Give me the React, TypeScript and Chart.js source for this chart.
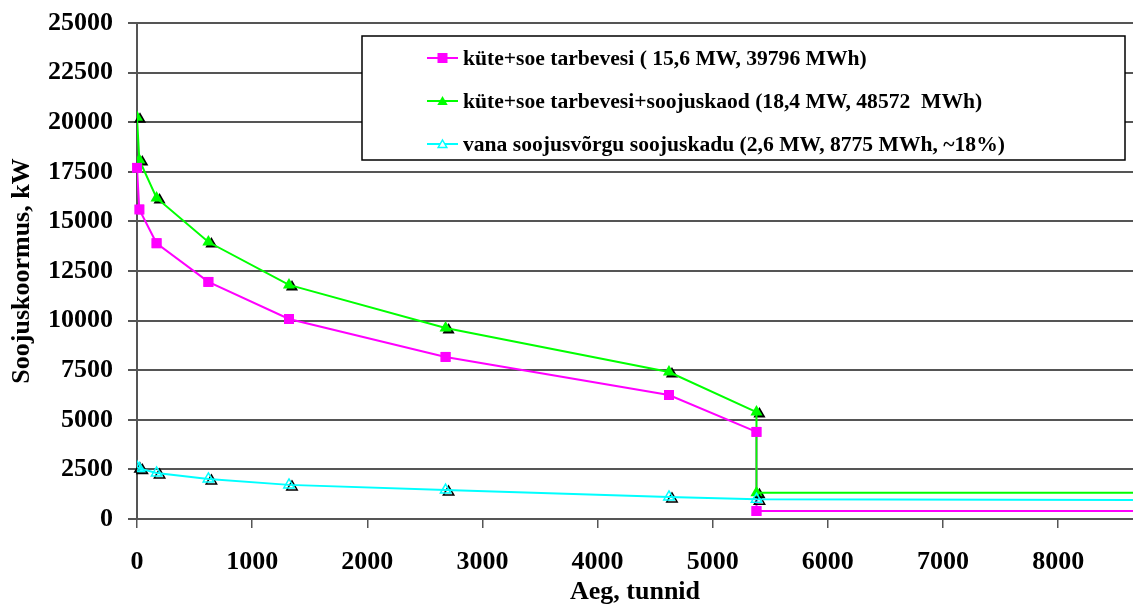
import React, { useEffect, useRef } from 'react';
import { Chart, registerables } from 'chart.js';

Chart.register(...registerables);

// ---- data ----
const hours = [0, 20, 170, 620, 1320, 2680, 4620, 5380, 5380, 8760];
const heatDhw = [17700, 15600, 13900, 11950, 10080, 8170, 6250, 4390, 400, 400];
const heatDhwLoss = [20250, 18100, 16180, 13960, 11800, 9630, 7410, 5390, 1320, 1320];
const lossHours = [0, 20, 170, 620, 1320, 2680, 4620, 5380, 8760];
const networkLoss = [2620, 2550, 2320, 2020, 1720, 1460, 1110, 1000, 960];

const seriesLabels = [
  'küte+soe tarbevesi ( 15,6 MW, 39796 MWh)',
  'küte+soe tarbevesi+soojuskaod (18,4 MW, 48572  MWh)',
  'vana soojusvõrgu soojuskadu (2,6 MW, 8775 MWh, ~18%)',
];
const xTickValues = [0, 1000, 2000, 3000, 4000, 5000, 6000, 7000, 8000];
const yTickValues = [0, 2500, 5000, 7500, 10000, 12500, 15000, 17500, 20000, 22500, 25000];
const xTitle = 'Aeg, tunnid';
const yTitle = 'Soojuskoormus, kW';

const FONT = "'Liberation Serif', 'Times New Roman', serif";
const PINK = '#ff00ff';
const GREEN = '#00ff00';
const CYAN = '#00ffff';

const toPoints = (xs: number[], ys: number[]) => xs.map((x, i) => ({ x, y: ys[i] }));
const radii = (n: number, r: number) => Array.from({ length: n }, (_, i) => (i === n - 1 ? 0 : r));

function trianglePath(ctx: CanvasRenderingContext2D, x: number, y: number, r: number) {
  ctx.beginPath();
  ctx.moveTo(x, y - r);
  ctx.lineTo(x + 0.866 * r, y + 0.5 * r);
  ctx.lineTo(x - 0.866 * r, y + 0.5 * r);
  ctx.closePath();
}

const shadowPlugin = {
  id: 'markerShadow',
  beforeDatasetDraw(chart: any, args: any) {
    const ds = chart.data.datasets[args.index];
    if (ds.pointStyle !== 'triangle') return;
    const ctx = chart.ctx as CanvasRenderingContext2D;
    const rs = ds.pointRadius as number[];
    ctx.save();
    args.meta.data.forEach((pt: any, i: number) => {
      const r = rs[i];
      if (!r) return;
      trianglePath(ctx, pt.x + 3, pt.y + 2, r);
      if (ds.shadowFill) {
        ctx.fillStyle = '#000';
        ctx.fill();
      } else {
        ctx.strokeStyle = '#000';
        ctx.lineWidth = 1.5;
        ctx.stroke();
      }
    });
    ctx.restore();
  },
};

// square markers sit above the other series' lines, as in the original
const squaresOnTopPlugin = {
  id: 'squaresOnTop',
  afterDatasetsDraw(chart: any) {
    const ctx = chart.ctx;
    const area = chart.chartArea;
    chart.data.datasets.forEach((ds: any, i: number) => {
      if (ds.pointStyle !== 'rect') return;
      const meta = chart.getDatasetMeta(i);
      meta.data.forEach((pt: any) => pt.draw(ctx, area));
    });
  },
};

const legendPlugin = {
  id: 'boxLegend',
  afterDatasetsDraw(chart: any) {
    const ctx = chart.ctx as CanvasRenderingContext2D;
    const a = chart.chartArea;
    const bx = a.left + 225;
    const by = a.top + 13;
    const bw = 763;
    const bh = 124;
    ctx.save();
    ctx.fillStyle = '#fff';
    ctx.fillRect(bx, by, bw, bh);
    ctx.strokeStyle = '#000';
    ctx.lineWidth = 1.5;
    ctx.strokeRect(bx, by, bw, bh);
    const rowY = [22, 65, 108];
    chart.data.datasets.forEach((ds: any, i: number) => {
      const y = by + rowY[i];
      const x0 = bx + 65;
      const x1 = bx + 96;
      const cx = (x0 + x1) / 2;
      ctx.strokeStyle = ds.borderColor;
      ctx.lineWidth = 2;
      ctx.beginPath();
      ctx.moveTo(x0, y);
      ctx.lineTo(x1, y);
      ctx.stroke();
      if (ds.pointStyle === 'rect') {
        ctx.fillStyle = ds.borderColor;
        ctx.fillRect(cx - 5, y - 5, 10, 10);
      } else if (ds.shadowFill) {
        trianglePath(ctx, cx, y + 1, 6);
        ctx.fillStyle = ds.borderColor;
        ctx.fill();
      } else {
        trianglePath(ctx, cx, y + 1, 5);
        ctx.fillStyle = '#fff';
        ctx.fill();
        ctx.lineWidth = 1.5;
        ctx.stroke();
      }
      ctx.fillStyle = '#000';
      ctx.font = `bold 21.6px ${FONT}`;
      ctx.textBaseline = 'middle';
      ctx.textAlign = 'left';
      ctx.fillText(seriesLabels[i], x1 + 5, y + 1);
    });
    ctx.restore();
  },
};

const plain = (v: any) => String(v);

export default function App() {
  const ref = useRef<HTMLCanvasElement | null>(null);

  useEffect(() => {
    if (!ref.current) return;
    const pinkR = radii(hours.length, 7);
    const greenR = radii(hours.length, 7);
    const cyanR = radii(lossHours.length, 6);
    const chart = new Chart(ref.current, {
      type: 'line',
      data: {
        datasets: [
          {
            label: seriesLabels[0],
            data: toPoints(hours, heatDhw),
            borderColor: PINK,
            backgroundColor: PINK,
            borderWidth: 2,
            pointStyle: 'rect',
            pointRadius: pinkR,
            pointBackgroundColor: PINK,
            pointBorderColor: PINK,
            pointBorderWidth: 0,
            order: 3,
          },
          {
            label: seriesLabels[1],
            data: toPoints(hours, heatDhwLoss),
            borderColor: GREEN,
            backgroundColor: GREEN,
            borderWidth: 2,
            pointStyle: 'triangle',
            pointRadius: greenR,
            pointBackgroundColor: GREEN,
            pointBorderColor: GREEN,
            pointBorderWidth: 0,
            shadowFill: true,
            order: 2,
          } as any,
          {
            label: seriesLabels[2],
            data: toPoints(lossHours, networkLoss),
            borderColor: CYAN,
            backgroundColor: CYAN,
            borderWidth: 2,
            pointStyle: 'triangle',
            pointRadius: cyanR,
            pointBackgroundColor: 'rgba(0,0,0,0)',
            pointBorderColor: CYAN,
            pointBorderWidth: 1.5,
            shadowFill: false,
            order: 1,
          } as any,
        ],
      },
      options: {
        responsive: false,
        animation: false,
        maintainAspectRatio: false,
        layout: { autoPadding: false, padding: { top: 23, right: 0, left: 0, bottom: 0 } },
        plugins: {
          legend: { display: false },
          title: { display: false },
          tooltip: { enabled: false },
        },
        elements: { line: { tension: 0 } },
        scales: {
          x: {
            type: 'linear',
            min: 0,
            max: 8650,
            afterBuildTicks: (s: any) => {
              s.ticks = xTickValues.map((v) => ({ value: v }));
            },
            afterFit: (s: any) => {
              s.height = 89;
              s.paddingLeft = 0;
              s.paddingRight = 0;
            },
            ticks: {
              color: '#000',
              font: { family: FONT, size: 26, weight: 'bold' },
              padding: 19,
              maxRotation: 0,
              autoSkip: false,
              callback: plain,
            },
            grid: { drawOnChartArea: false, tickLength: 9, color: '#555', lineWidth: 1.5 },
            border: { color: '#555', width: 2 },
            title: {
              display: true,
              text: xTitle,
              color: '#000',
              font: { family: FONT, size: 26, weight: 'bold' },
              padding: { top: 0, bottom: 0 },
            },
          },
          y: {
            type: 'linear',
            min: 0,
            max: 25000,
            afterBuildTicks: (s: any) => {
              s.ticks = yTickValues.map((v) => ({ value: v }));
            },
            afterFit: (s: any) => {
              s.width = 137;
              s.paddingTop = 0;
              s.paddingBottom = 0;
            },
            ticks: {
              color: '#000',
              font: { family: FONT, size: 26, weight: 'bold' },
              padding: 15,
              autoSkip: false,
              callback: plain,
            },
            grid: { tickLength: 9, color: '#555', lineWidth: 2 },
            border: { color: '#555', width: 2 },
            title: {
              display: true,
              text: yTitle,
              color: '#000',
              font: { family: FONT, size: 26, weight: 'bold' },
              padding: { top: 7, bottom: 0 },
            },
          },
        },
      },
      plugins: [shadowPlugin, squaresOnTopPlugin, legendPlugin],
    } as any);
    return () => chart.destroy();
  }, []);

  return (
    <div style={{ position: 'fixed', left: 0, top: 0, width: 1133, height: 608, background: '#fff' }}>
      <canvas ref={ref} width={1133} height={608} style={{ width: 1133, height: 608 }} />
    </div>
  );
}
